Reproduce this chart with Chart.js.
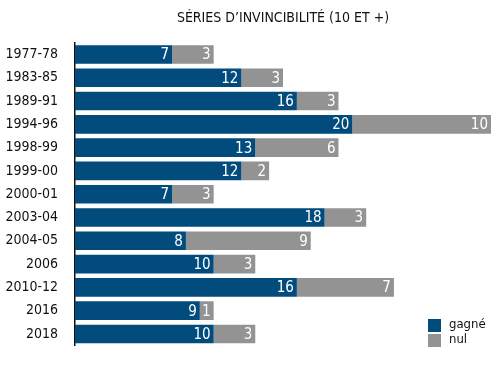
<!DOCTYPE html>
<html>
<head>
<meta charset="utf-8">
<script src="https://cdn.jsdelivr.net/npm/chart.js@4"></script>
<style>
  body { margin: 0; background: #fff; }
  #wrap { width: 499px; height: 371px; }
</style>
</head>
<body>
<div id="wrap"><canvas id="chart" width="499" height="371"></canvas></div>
<script>
// Data
const seasons = ['1977-78', '1983-85', '1989-91', '1994-96', '1998-99', '1999-00', '2000-01',
                 '2003-04', '2004-05', '2006', '2010-12', '2016', '2018'];
const wins  = [7, 12, 16, 20, 13, 12, 7, 18, 8, 10, 16, 9, 10];
const draws = [3, 3, 3, 10, 6, 2, 3, 3, 9, 3, 7, 1, 3];

const BLUE = '#014b7d';
const GREY = '#939393';
const FONT = '"DejaVu Sans Condensed", "Liberation Sans Narrow", "DejaVu Sans", sans-serif';

// white values at the end of each segment
const valueLabels = {
    id: 'valueLabels',
    afterDatasetsDraw(chart) {
        const ctx = chart.ctx;
        ctx.save();
        ctx.fillStyle = '#fff';
        ctx.font = '15px ' + FONT;
        ctx.textAlign = 'right';
        ctx.textBaseline = 'middle';
        chart.data.datasets.forEach((ds, i) => {
            chart.getDatasetMeta(i).data.forEach((bar, j) => {
                ctx.fillText(ds.data[j], bar.x - 3, bar.y + 1);
            });
        });
        ctx.restore();
    }
};

// small legend bottom right
const cornerLegend = {
    id: 'cornerLegend',
    afterDraw(chart) {
        const ctx = chart.ctx;
        ctx.save();
        ctx.font = '13px ' + FONT;
        ctx.textBaseline = 'middle';
        chart.data.datasets.forEach((ds, i) => {
            const y = 319 + i * 15;
            ctx.fillStyle = ds.backgroundColor;
            ctx.fillRect(428, y, 13, 13);
            ctx.fillStyle = '#111';
            ctx.fillText(ds.label, 449, y + 6);
        });
        ctx.restore();
    }
};

new Chart(document.getElementById('chart'), {
    type: 'bar',
    data: {
        labels: seasons,
        datasets: [
            { label: 'gagné', data: wins, backgroundColor: BLUE },
            { label: 'nul', data: draws, backgroundColor: GREY }
        ]
    },
    options: {
        indexAxis: 'y',
        responsive: false,
        animation: false,
        layout: { padding: { top: 4, right: 8, bottom: 11, left: 0 } },
        datasets: { bar: { barPercentage: 0.8, categoryPercentage: 1 } },
        plugins: {
            legend: { display: false },
            tooltip: { enabled: false },
            title: {
                display: true,
                fullSize: false,
                text: 'SÉRIES D\u2019INVINCIBILITÉ (10 ET +)',
                color: '#111',
                font: { family: FONT, size: 14, weight: '500' },
                padding: { top: 6, bottom: 16 }
            }
        },
        scales: {
            x: {
                stacked: true,
                min: 0,
                max: 30,
                display: false
            },
            y: {
                stacked: true,
                grid: { display: false, drawTicks: false },
                border: { display: true, color: '#111', width: 1.5 },
                ticks: {
                    color: '#111',
                    font: { family: FONT, size: 14, weight: '500' },
                    padding: 17
                },
                afterFit(scale) { scale.width = 75; }
            }
        }
    },
    plugins: [valueLabels, cornerLegend]
});
</script>
</body>
</html>
